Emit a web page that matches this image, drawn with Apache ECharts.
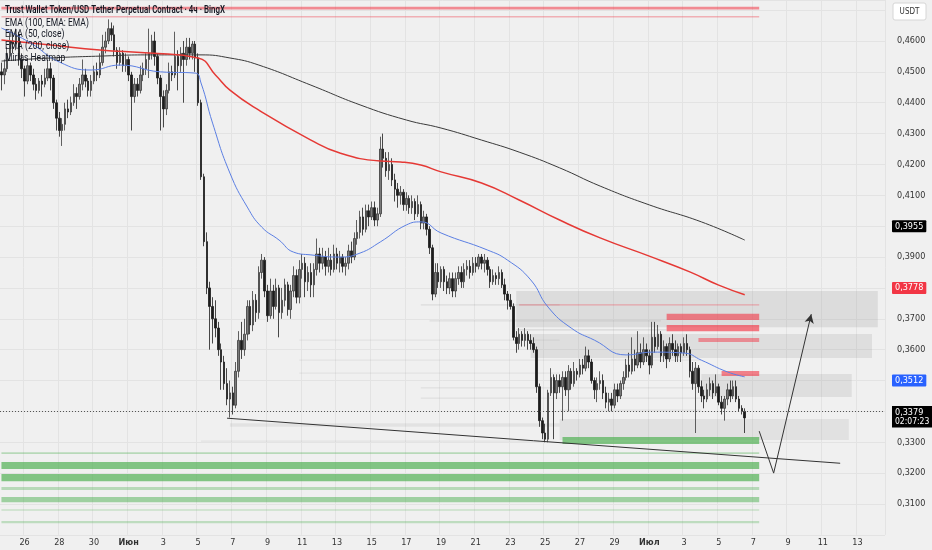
<!DOCTYPE html>
<html><head><meta charset="utf-8">
<script src="https://cdn.jsdelivr.net/npm/echarts@6/dist/echarts.min.js"></script>
<style>html,body{margin:0;padding:0;background:#f0f0f0}#c{width:932px;height:550px}</style>
</head><body><div id="c"></div>
<script>
// ---- time slots (4h candles) ----
const START_UTC = Date.UTC(2025, 4, 24, 16);   // first slot: 24 May 16:00
const SLOT_HOURS = 4;
const SLOT_COUNT = 306;                         // includes empty future slots
const MONTHS_RU = ['Янв','Фев','Мар','Апр','Май','Июн','Июл','Авг','Сен','Окт','Ноя','Дек'];
const FIRST_LABEL_SLOT = 8;                     // 26 May 00:00
const LABEL_EVERY = 12;                         // every 2 days

// ---- candles, prices in 1/10000 USDT ----
const opens = [
4500,4490,4510,4560,4600,4590,4620,4540,4510,4470,
4520,4490,4460,4440,4470,4460,4480,4510,4480,4400,
4350,4310,4330,4380,4370,4400,4430,4420,4460,4490,
4470,4440,4470,4500,4490,4530,4580,4600,4640,4620,
4570,4530,4560,4520,4540,4490,4420,4460,4440,4490,
4510,4540,4560,4600,4550,4480,4420,4380,4440,4500,
4490,4550,4520,4560,4540,4580,4560,4590,4545,4400,
4160,3950,3800,3740,3700,3670,3600,3560,3490,3440,
3460,3420,3530,3630,3600,3650,3740,3680,3760,3720,
3850,3890,3790,3710,3790,3740,3800,3720,3760,3810,
3730,3790,3840,3770,3860,3880,3820,3850,3810,3860,
3910,3880,3900,3870,3890,3860,3910,3880,3900,3870,
3880,3920,3900,3960,3980,4030,3990,4050,4030,4060,
4020,4040,4250,4220,4180,4200,4150,4120,4100,4110,
4070,4090,4060,4080,4040,4070,4010,4030,3990,3930,
3780,3850,3820,3860,3820,3800,3830,3790,3830,3850,
3820,3860,3870,3850,3880,3870,3900,3880,3890,3860,
3820,3840,3830,3850,3810,3780,3760,3740,3640,3620,
3650,3630,3650,3630,3620,3600,3480,3370,3330,3310,
3460,3510,3460,3500,3480,3510,3470,3530,3490,3530,
3520,3550,3540,3580,3560,3500,3470,3490,3500,3460,
3430,3440,3420,3470,3450,3490,3510,3550,3530,3570,
3550,3590,3560,3600,3580,3550,3640,3610,3650,3580,
3610,3570,3620,3600,3580,3610,3590,3620,3600,3530,
3490,3540,3480,3450,3440,3470,3490,3460,3480,3430,
3410,3440,3470,3450,3480,3440,3410,3400];
const closes = [
4490,4510,4560,4600,4590,4620,4540,4510,4470,4520,
4490,4460,4440,4470,4460,4480,4510,4480,4400,4350,
4310,4330,4380,4370,4400,4430,4420,4460,4490,4470,
4440,4470,4500,4490,4530,4580,4600,4640,4620,4570,
4530,4560,4520,4540,4490,4420,4460,4440,4490,4510,
4540,4560,4600,4550,4480,4420,4380,4440,4500,4490,
4550,4520,4560,4540,4580,4560,4590,4545,4400,4160,
3950,3800,3740,3700,3670,3600,3560,3490,3440,3460,
3420,3530,3630,3600,3650,3740,3680,3760,3720,3850,
3890,3790,3710,3790,3740,3800,3720,3760,3810,3730,
3790,3840,3770,3860,3880,3820,3850,3810,3860,3910,
3880,3900,3870,3890,3860,3910,3880,3900,3870,3880,
3920,3900,3960,3980,4030,3990,4050,4030,4060,4020,
4040,4250,4220,4180,4200,4150,4120,4100,4110,4070,
4090,4060,4080,4040,4070,4010,4030,3990,3930,3780,
3850,3820,3860,3820,3800,3830,3790,3830,3850,3820,
3860,3870,3850,3880,3870,3900,3880,3890,3860,3820,
3840,3830,3850,3810,3780,3760,3740,3640,3620,3650,
3630,3650,3630,3620,3600,3480,3370,3330,3310,3460,
3510,3460,3500,3480,3510,3470,3530,3490,3530,3520,
3550,3540,3580,3560,3500,3470,3490,3500,3460,3430,
3440,3420,3470,3450,3490,3510,3550,3530,3570,3550,
3590,3560,3600,3580,3550,3640,3610,3650,3580,3610,
3570,3620,3600,3580,3610,3590,3620,3600,3530,3490,
3540,3480,3450,3440,3470,3490,3460,3480,3430,3410,
3440,3470,3450,3480,3440,3410,3400,3379];
const lows = [
4440,4460,4500,4540,4560,4570,4520,4480,4420,4460,
4470,4440,4410,4430,4420,4450,4470,4440,4380,4310,
4290,4260,4310,4350,4360,4390,4380,4410,4440,4450,
4420,4420,4460,4470,4480,4520,4560,4590,4600,4550,
4510,4520,4500,4500,4470,4310,4400,4420,4430,4470,
4490,4480,4540,4520,4460,4310,4320,4360,4430,4470,
4480,4440,4500,4400,4520,4540,4540,4500,4390,4150,
3935,3780,3600,3620,3640,3580,3470,3470,3420,3380,
3390,3410,3510,3570,3580,3630,3650,3660,3690,3700,
3830,3770,3690,3700,3700,3730,3640,3700,3740,3710,
3700,3770,3750,3750,3830,3770,3790,3770,3770,3840,
3850,3860,3840,3850,3840,3850,3860,3850,3850,3840,
3860,3880,3890,3940,3960,3970,3980,4000,4020,4000,
4000,4030,4190,4160,4150,4130,4080,4060,4070,4050,
4050,4040,4040,4020,4030,3990,3990,3970,3910,3760,
3770,3800,3800,3790,3780,3780,3770,3770,3810,3800,
3800,3840,3830,3840,3850,3860,3860,3850,3840,3800,
3810,3810,3810,3800,3760,3730,3730,3630,3590,3600,
3610,3610,3600,3600,3590,3460,3350,3310,3300,3300,
3450,3310,3440,3460,3370,3450,3400,3470,3480,3500,
3510,3520,3530,3540,3490,3440,3430,3470,3440,3410,
3400,3400,3410,3430,3440,3470,3500,3510,3520,3530,
3540,3540,3550,3560,3520,3540,3590,3600,3560,3560,
3540,3560,3580,3560,3560,3560,3580,3580,3510,3470,
3330,3460,3430,3410,3430,3450,3440,3450,3420,3390,
3370,3420,3430,3440,3430,3400,3390,3330];
const highs = [
4530,4540,4580,4630,4630,4640,4630,4560,4520,4540,
4530,4510,4480,4480,4490,4510,4540,4530,4490,4410,
4370,4350,4400,4410,4420,4460,4450,4480,4540,4510,
4480,4490,4520,4530,4560,4620,4630,4670,4660,4650,
4580,4580,4570,4560,4550,4500,4480,4480,4520,4530,
4560,4640,4620,4630,4560,4490,4440,4460,4530,4520,
4630,4570,4580,4600,4610,4610,4600,4600,4560,4410,
4170,3980,3820,3770,3760,3690,3620,3580,3540,3500,
3480,3560,3660,3690,3700,3760,3760,3790,3780,3870,
3910,3900,3810,3830,3810,3830,3810,3800,3830,3820,
3810,3870,3860,3890,3910,3900,3870,3880,3880,3960,
3930,3930,3920,3930,3910,3940,3930,3920,3910,3900,
3940,3950,3980,4020,4050,4060,4070,4070,4080,4080,
4060,4290,4300,4240,4240,4220,4170,4140,4130,4120,
4110,4100,4100,4090,4100,4080,4050,4040,4000,3940,
3880,3880,3870,3870,3840,3850,3850,3850,3870,3870,
3880,3890,3890,3900,3900,3910,3910,3910,3900,3870,
3860,3850,3870,3860,3830,3790,3780,3750,3660,3670,
3660,3670,3660,3650,3640,3610,3490,3380,3360,3470,
3540,3520,3520,3520,3530,3530,3550,3540,3560,3540,
3570,3570,3610,3600,3570,3510,3510,3530,3520,3480,
3460,3460,3490,3490,3500,3530,3570,3590,3640,3600,
3660,3620,3640,3620,3600,3690,3690,3680,3660,3630,
3620,3640,3650,3630,3620,3620,3640,3650,3610,3560,
3560,3550,3500,3470,3490,3510,3500,3520,3490,3450,
3450,3490,3500,3500,3500,3450,3420,3410];
const PRICE_DIV = 10000;

// ---- moving averages: [slot, price] ----
const ema200 = [[0,0.4535],[17,0.4545],[34,0.4551],[51,0.4555],[69,0.4555],[79,0.4545],[89,0.4522],[107,0.4457],[124,0.4393],[140,0.4344],[152,0.4318],[166,0.4279],[179,0.4240],[193,0.4189],[207,0.4130],[224,0.4069],[242,0.4014],[257,0.3955]];
const ema100 = [[0,0.4603],[17,0.4587],[34,0.4571],[51,0.4561],[68,0.4545],[74,0.4490],[79,0.4441],[89,0.4376],[107,0.4279],[117,0.4237],[131,0.4211],[138,0.4208],[145,0.4198],[152,0.4176],[166,0.4140],[179,0.4085],[193,0.4020],[207,0.3962],[224,0.3903],[238,0.3852],[248,0.3809],[257,0.3778]];
const ema50 = [[0,0.4642],[10,0.4594],[20,0.4532],[31,0.4506],[41,0.4522],[55,0.4500],[67,0.4496],[69,0.4464],[73,0.4334],[79,0.4172],[85,0.4062],[90,0.3997],[96,0.3955],[101,0.3916],[107,0.3907],[117,0.3900],[124,0.3913],[131,0.3949],[140,0.4004],[145,0.4014],[152,0.3978],[168,0.3923],[175,0.3890],[183,0.3826],[189,0.3738],[197,0.3670],[205,0.3631],[216,0.3583],[225,0.3592],[236,0.3589],[242,0.3566],[251,0.3528],[257,0.3512]];

// ---- heatmap zones: [fromSlot, toSlot, lowPrice, highPrice, intensity] ----
const grayZones = [
  [178,303,0.3673,0.3790,0.22],
  [183,301,0.3573,0.3651,0.20],
  [242,294,0.3447,0.3521,0.20],
  [193,293,0.3307,0.3375,0.16]
];
const grayLines = [
  [145,193,0.3743,0.3747,0.18],[148,228,0.3691,0.3695,0.16],[178,230,0.3662,0.3666,0.22],
  [103,193,0.3629,0.3633,0.12],[103,242,0.3564,0.3568,0.12],[103,193,0.3522,0.3526,0.12],
  [145,242,0.3474,0.3478,0.14],[145,242,0.3441,0.3445,0.14],[193,242,0.3402,0.3406,0.14],
  [79,193,0.3350,0.3362,0.12],[69,186,0.3302,0.3306,0.12]
];
const redZones = [
  [0,262,0.4702,0.4711,0.55],
  [0,262,0.4676,0.4681,0.35],
  [179,262,0.3743,0.3747,0.35],
  [230,262,0.3696,0.3716,0.6],
  [230,262,0.3660,0.3680,0.65],
  [241,262,0.3625,0.3638,0.5],
  [249,262,0.3515,0.3531,0.6]
];
const greenZones = [
  [194,262,0.3294,0.3317,0.68],
  [0,262,0.3262,0.3268,0.35],
  [0,262,0.3213,0.3236,0.68],
  [0,262,0.3174,0.3197,0.68],
  [0,262,0.3145,0.3155,0.35],
  [0,262,0.3106,0.3123,0.5],
  [0,262,0.3077,0.3084,0.18],
  [0,262,0.3038,0.3045,0.3]
];

// ---- drawings: [slot, price] ----
const trendLine = [[78,0.3378],[290,0.3232]];
const arrowPath = [[262,0.3336],[267,0.3200],[280,0.3715]];
const lastPrice = 0.3379;
const countdown = '02:07:23';

// ---- texts ----
const titleText = 'Trust Wallet Token/USD Tether Perpetual Contract · 4ч · BingX';
const legendLines = ['EMA (100, EMA: EMA)', 'EMA (50, close)', 'EMA (200, close)', 'Mirlas Heatmap'];

// ---------------------------------------------------------------
const categories = [];
for (let i = 0; i < SLOT_COUNT; i++) categories.push(new Date(START_UTC + i * SLOT_HOURS * 3600e3).toISOString());
const candleData = opens.map((o, i) => [o / PRICE_DIV, closes[i] / PRICE_DIV, lows[i] / PRICE_DIV, highs[i] / PRICE_DIV]);
const fmt = v => v.toFixed(4).replace('.', ',');
const isLabelSlot = i => i >= FIRST_LABEL_SLOT && (i - FIRST_LABEL_SLOT) % LABEL_EVERY === 0;
const lastOf = a => a[a.length - 1][1];

function zoneAreas(list, rgb) {
  return list.map(z => [
    { xAxis: z[0], yAxis: z[2], itemStyle: { color: 'rgba(' + rgb + ',' + z[4] + ')' } },
    { xAxis: z[1], yAxis: z[3] }
  ]);
}

const FONT = "'Liberation Sans Narrow','DejaVu Sans Condensed',Roboto,sans-serif";
const tagLabel = (txt, bg) => ({
  show: true, position: 'end', distance: 7, formatter: txt, backgroundColor: bg,
  color: '#fff', fontSize: 9, fontFamily: FONT, padding: [2, 3, 1, 3], borderRadius: 1
});
const hiddenLine = { color: 'rgba(0,0,0,0)', width: 0 };
const tagBox = { width: 34, height: 10, lineHeight: 10, color: '#fff', fontSize: 9, fontFamily: FONT, backgroundColor: '#000' };
const lastPriceLabel = {
  show: true, position: 'end', distance: 7,
  formatter: '{e|}\n{a|' + fmt(lastPrice) + '}\n{b|' + countdown + '}',
  rich: {
    e: { height: 11, width: 40 },
    a: Object.assign({}, tagBox, { padding: [2, 3, 0, 3] }),
    b: Object.assign({}, tagBox, { padding: [0, 3, 1, 3], fontSize: 8.5 })
  }
};

const chart = echarts.init(document.getElementById('c'), null, { renderer: 'canvas' });
chart.setOption({
  backgroundColor: '#f0f0f0',
  animation: false,
  grid: { left: 0, right: 47, top: 0, bottom: 15.13, containLabel: false },
  xAxis: {
    type: 'category', data: categories, boundaryGap: true,
    axisLine: { show: false }, axisTick: { show: false },
    axisLabel: {
      interval: (i) => isLabelSlot(i), margin: 3, color: '#333', fontSize: 9, fontFamily: FONT,
      formatter: (v) => { const d = new Date(v); return d.getUTCDate() === 1 ? '{m|' + MONTHS_RU[d.getUTCMonth()] + '}' : String(d.getUTCDate()); },
      rich: { m: { fontWeight: 'bold', color: '#333', fontSize: 9, fontFamily: FONT } }
    },
    splitLine: { show: true, interval: (i) => isLabelSlot(i), lineStyle: { color: '#e3e3e3', width: 1 } }
  },
  yAxis: {
    type: 'value', position: 'right', min: 0.30, max: 0.47328, interval: 0.01, scale: false,
    axisLine: { show: false }, axisTick: { show: false },
    axisLabel: { margin: 12, color: '#333', fontSize: 9, fontFamily: FONT, showMaxLabel: false,
      formatter: v => (v < 0.305 || v > 0.465) ? '' : fmt(v) },
    splitLine: { lineStyle: { color: '#e3e3e3', width: 1 } }
  },
  series: [
    { type: 'line', name: 'zones', data: [], z: 1, silent: true, clip: false,
      markArea: { silent: true, data: [].concat(zoneAreas(grayZones, '150,150,150'), zoneAreas(grayLines, '130,130,130'), zoneAreas(greenZones, '76,175,80'), zoneAreas(redZones, '242,54,69')) } },
    { type: 'candlestick', name: 'price', data: candleData, z: 3, barWidth: 2,
      itemStyle: { color: '#7a7a7a', color0: '#1c1c1c', borderColor: '#3a3a3a', borderColor0: '#1c1c1c', borderWidth: 0.8 },
      markLine: { silent: true, symbol: 'none', animation: false,
        data: [{ yAxis: lastPrice, lineStyle: { color: '#555', type: [1, 2], width: 1 }, label: lastPriceLabel }] } },
    { type: 'line', name: 'EMA200', data: ema200, smooth: 0.5, showSymbol: false, z: 4,
      lineStyle: { color: '#3a3a3a', width: 1 },
      markLine: { silent: true, symbol: 'none', data: [{ yAxis: lastOf(ema200), lineStyle: hiddenLine, label: tagLabel(fmt(lastOf(ema200)), '#000') }] } },
    { type: 'line', name: 'EMA100', data: ema100, smooth: 0.5, showSymbol: false, z: 4,
      lineStyle: { color: '#e53935', width: 1.5 },
      markLine: { silent: true, symbol: 'none', data: [{ yAxis: lastOf(ema100), lineStyle: hiddenLine, label: tagLabel(fmt(lastOf(ema100)), '#f23645') }] } },
    { type: 'line', name: 'EMA50', data: ema50, smooth: 0.5, showSymbol: false, z: 4,
      lineStyle: { color: '#5b7fe3', width: 1 },
      markLine: { silent: true, symbol: 'none', data: [{ yAxis: lastOf(ema50), lineStyle: hiddenLine, label: tagLabel(fmt(lastOf(ema50)), '#2962ff') }] } },
    { type: 'line', name: 'drawings', data: [], z: 5, clip: false,
      markLine: { silent: true, symbol: 'none', label: { show: false },
        lineStyle: { color: '#333', width: 1, type: 'solid' },
        data: [
          [{ coord: trendLine[0] }, { coord: trendLine[1] }],
          [{ coord: arrowPath[0] }, { coord: arrowPath[1] }],
          [{ coord: arrowPath[1], symbol: 'none' }, { coord: arrowPath[2], symbol: 'arrow', symbolSize: [7, 9] }]
        ] } }
  ],
  graphic: [
    { type: 'text', x: 5, y: 5, scaleX: 0.79, z: 100, style: { text: titleText, fontSize: 10, fontWeight: 600, fontFamily: 'Roboto', fill: '#131722', verticalAlign: 'top' } },
    ...legendLines.map((t, i) => ({ type: 'text', x: 5, y: 18 + i * 11.8, scaleX: 0.85, z: 100,
      style: { text: t, fontSize: 10, fontFamily: 'Roboto', fill: '#131722', verticalAlign: 'top' } })),
    { type: 'group', x: 893, y: 3, z: 100, children: [
      { type: 'rect', shape: { x: 0, y: 0, width: 33, height: 17, r: 2 }, style: { fill: '#fff', stroke: '#d6d6d6' } },
      { type: 'text', x: 16.5, y: 9, style: { text: 'USDT', fontSize: 8, fontFamily: FONT, fill: '#333', align: 'center', verticalAlign: 'middle' } }
    ] }
  ]
});
</script></body></html>
